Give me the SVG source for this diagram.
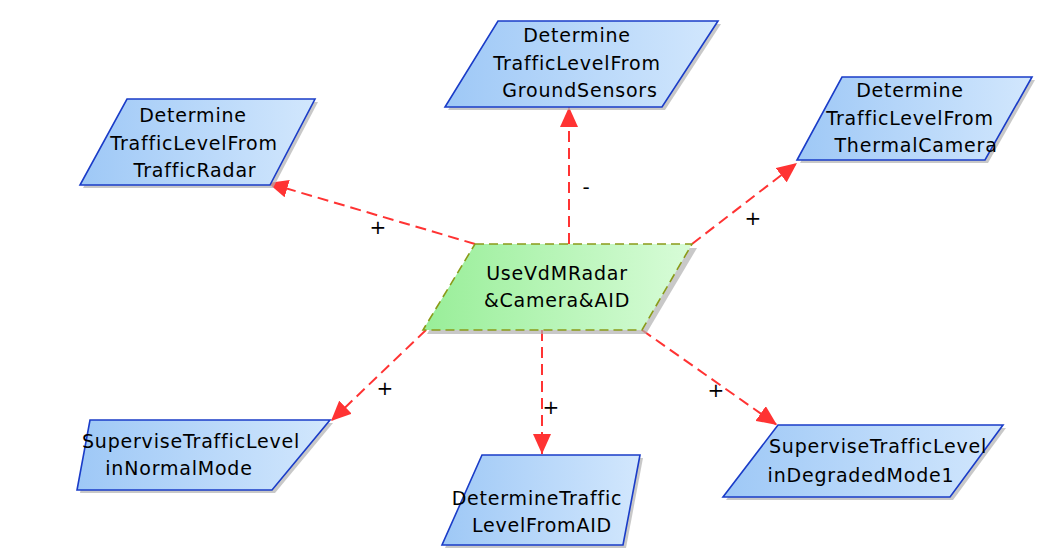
<svg xmlns="http://www.w3.org/2000/svg" width="1042" height="560" viewBox="0 0 1042 560">
<style>
.node{fill:url(#blue);stroke:#1a3cc8;stroke-width:1.6}
.shadow{fill:#b0b0b0;opacity:0.7}
.center{fill:url(#green);stroke:#8a9a18;stroke-width:1.6;stroke-dasharray:9 5}
.t{font-family:"DejaVu Sans",sans-serif;font-size:19px;letter-spacing:0.8px;fill:#000;text-anchor:middle}
.edge{stroke:#ff3333;stroke-width:2;stroke-dasharray:11 6;fill:none;marker-end:url(#arr)}
.lbl{font-family:"DejaVu Sans",sans-serif;font-size:20px;fill:#000;text-anchor:middle}
</style>
<defs>
<linearGradient id="blue" x1="0" y1="0" x2="1" y2="0">
<stop offset="0" stop-color="#9ec8f6"/>
<stop offset="1" stop-color="#d2e7fd"/>
</linearGradient>
<linearGradient id="green" x1="0" y1="0" x2="1" y2="0">
<stop offset="0" stop-color="#98ee98"/>
<stop offset="1" stop-color="#d8fcd8"/>
</linearGradient>
<marker id="arr" viewBox="0 0 20 18" refX="20" refY="9" markerWidth="20" markerHeight="18" markerUnits="userSpaceOnUse" orient="auto">
<path d="M0,0 L20,9 L0,18 Z" fill="#ff3333"/>
</marker>
</defs>
<rect width="1042" height="560" fill="#ffffff"/>
<g id="connectors">
<line class="edge" x1="475" y1="244" x2="268" y2="183"/>
<line class="edge" x1="569" y1="244" x2="569" y2="107"/>
<line class="edge" x1="692" y1="244" x2="797" y2="163"/>
<line class="edge" x1="426" y1="330" x2="331" y2="421"/>
<line class="edge" x1="542" y1="330" x2="542" y2="454"/>
<line class="edge" x1="642" y1="330" x2="777" y2="425"/>
<text class="lbl" x="378" y="234">+</text>
<text class="lbl" x="586" y="194">-</text>
<text class="lbl" x="753" y="225">+</text>
<text class="lbl" x="385" y="395">+</text>
<text class="lbl" x="551" y="414">+</text>
<text class="lbl" x="716" y="397">+</text>
</g>
<g id="center">
<polygon class="shadow" points="479,248 697,248 646,334 427,334"/>
<polygon class="center" points="475,244 692,244 642,330 423,330"/>
<text class="t" x="557" y="280">UseVdMRadar</text>
<text class="t" x="557" y="307">&amp;Camera&amp;AID</text>
</g>
<g id="groundsensors">
<polygon class="shadow" points="501,24 721,24 665,110 448,110"/>
<polygon class="node" points="498,21 718,21 662,107 445,107"/>
<text class="t" x="577" y="42">Determine</text>
<text class="t" x="577" y="70">TrafficLevelFrom</text>
<text class="t" x="580" y="97">GroundSensors</text>
</g>
<g id="trafficradar">
<polygon class="shadow" points="130,102 318,102 273,188 83,188"/>
<polygon class="node" points="127,99 315,99 270,185 80,185"/>
<text class="t" x="193" y="122">Determine</text>
<text class="t" x="194" y="150">TrafficLevelFrom</text>
<text class="t" x="195" y="177">TrafficRadar</text>
</g>
<g id="thermalcamera">
<polygon class="shadow" points="845,80 1035,80 988,163 800,163"/>
<polygon class="node" points="842,77 1032,77 985,160 797,160"/>
<text class="t" x="910" y="97">Determine</text>
<text class="t" x="910" y="125">TrafficLevelFrom</text>
<text class="t" x="916" y="152">ThermalCamera</text>
</g>
<g id="normalmode">
<polygon class="shadow" points="93,423 333,423 275,493 80,493"/>
<polygon class="node" points="90,420 330,420 272,490 77,490"/>
<text class="t" x="191" y="448">SuperviseTrafficLevel</text>
<text class="t" x="179" y="475">inNormalMode</text>
</g>
<g id="aid">
<polygon class="shadow" points="485,458 643,458 626,548 445,548"/>
<polygon class="node" points="482,455 640,455 623,545 442,545"/>
<text class="t" x="537" y="505">DetermineTraffic</text>
<text class="t" x="542" y="532">LevelFromAID</text>
</g>
<g id="degradedmode">
<polygon class="shadow" points="781,428 1006,428 953,500 726,500"/>
<polygon class="node" points="778,425 1003,425 950,497 723,497"/>
<text class="t" x="878" y="453">SuperviseTrafficLevel</text>
<text class="t" x="861" y="482">inDegradedMode1</text>
</g>
</svg>
